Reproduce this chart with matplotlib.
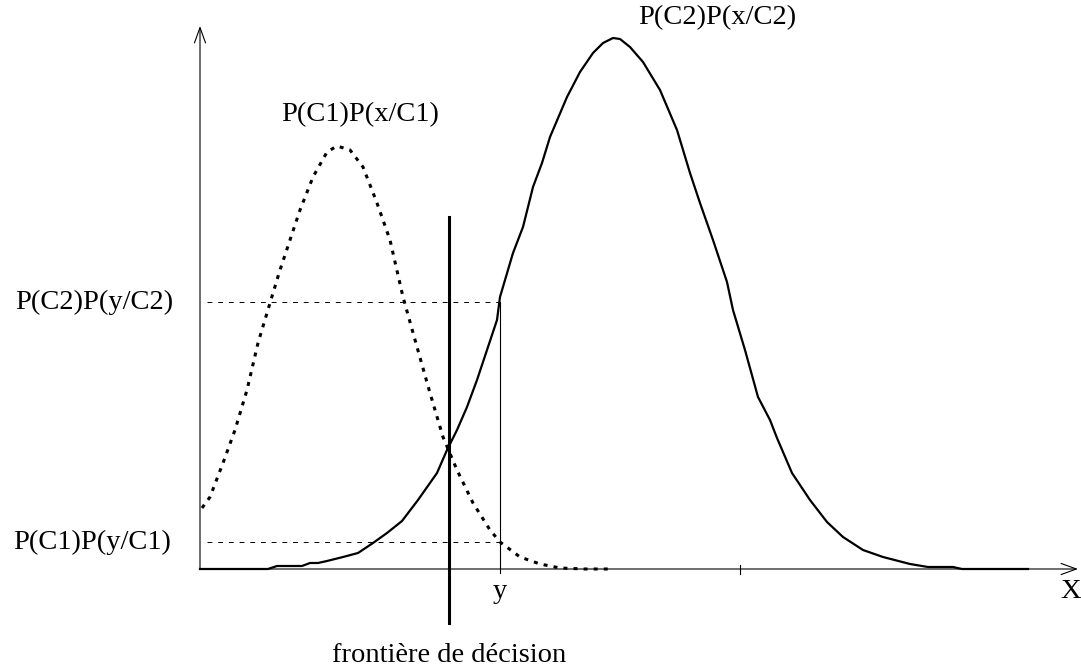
import numpy as np
import matplotlib
matplotlib.use('Agg')
import matplotlib.pyplot as plt

# class 1 curve, P(C1)P(x/C1) (dotted)
c1_x = [0.02, 0.10, 0.23, 0.35, 0.47, 0.58, 0.70, 0.80, 0.90, 1.00, 1.13, 1.27, 1.37, 1.50,
        1.63, 1.77, 1.90, 2.03, 2.17, 2.30, 2.43, 2.57, 2.73, 2.90, 3.00, 3.20, 3.40, 3.60,
        3.85, 4.10]
c1_y = [0.61, 0.72, 1.06, 1.39, 1.79, 2.26, 2.66, 2.99, 3.29, 3.59, 3.92, 4.17, 4.23, 4.19,
        4.02, 3.66, 3.29, 2.72, 2.22, 1.76, 1.32, 0.99, 0.66, 0.39, 0.27, 0.12, 0.05, 0.01,
        0.0, 0.0]

# class 2 curve, P(C2)P(x/C2) (solid)
c2_x = [0.00, 0.68, 0.77, 1.02, 1.10, 1.18, 1.27, 1.43, 1.58, 1.73, 1.87, 2.02, 2.18, 2.37,
        2.47, 2.57, 2.67, 2.77, 2.87, 2.97, 3.00, 3.13, 3.23, 3.33, 3.42, 3.50, 3.67, 3.80,
        3.93, 4.03, 4.13, 4.20, 4.30, 4.43, 4.60, 4.77, 4.90, 5.00, 5.13, 5.27, 5.33, 5.45,
        5.58, 5.70, 5.77, 5.92, 6.10, 6.27, 6.43, 6.63, 6.83, 7.10, 7.28, 7.53, 7.62, 8.28]
c2_y = [0.00, 0.00, 0.03, 0.03, 0.06, 0.06, 0.08, 0.12, 0.16, 0.26, 0.36, 0.48, 0.69, 0.96,
        1.19, 1.39, 1.62, 1.89, 2.19, 2.49, 2.72, 3.16, 3.42, 3.82, 4.06, 4.32, 4.72, 4.97,
        5.16, 5.26, 5.31, 5.30, 5.22, 5.07, 4.79, 4.39, 3.96, 3.66, 3.29, 2.87, 2.59, 2.19,
        1.72, 1.49, 1.31, 0.96, 0.69, 0.47, 0.32, 0.19, 0.12, 0.05, 0.02, 0.02, 0.00, 0.00]

boundary_x = 2.49
y_point = 3.0
p2_at_y = 2.67
p1_at_y = 0.27
tick_x = 5.40

fig = plt.figure(figsize=(10.81, 6.71), dpi=100)
ax = fig.add_axes([200 / 1081, 102 / 671, 878 / 1081, 543 / 671])
ax.set_xlim(0, 8.78)
ax.set_ylim(0, 5.43)
ax.axis('off')

plt.rcParams['font.family'] = ['Liberation Serif', 'DejaVu Serif']
fs = 20.5

# axes with open arrows
ax.annotate('', xy=(8.78, 0), xytext=(0, 0), annotation_clip=False,
            arrowprops=dict(arrowstyle='->,head_length=0.55,head_width=0.2', lw=0.8,
                            color='black', mutation_scale=20, shrinkA=0, shrinkB=0))
ax.annotate('', xy=(0, 5.43), xytext=(0, 0), annotation_clip=False,
            arrowprops=dict(arrowstyle='->,head_length=0.55,head_width=0.2', lw=0.8,
                            color='black', mutation_scale=20, shrinkA=0, shrinkB=0))
ax.plot([tick_x, tick_x], [-0.05, 0.04], color='black', lw=0.8, clip_on=False)

# curves
ax.plot(c1_x, c1_y, color='black', lw=2.2, linestyle=(0, (1.3, 2.0)), clip_on=False)
ax.plot(c2_x, c2_y, color='black', lw=1.6, clip_on=False)

# decision boundary and point y
ax.plot([boundary_x, boundary_x], [-0.54, 3.52], color='black', lw=2.2, clip_on=False)
ax.plot([y_point, y_point], [-0.04, p2_at_y], color='black', lw=0.8, clip_on=False)
ax.plot([0.07, y_point], [p2_at_y, p2_at_y], color='black', lw=0.7,
        linestyle=(0, (5, 6)), clip_on=False)
ax.plot([0.07, y_point], [p1_at_y, p1_at_y], color='black', lw=0.7,
        linestyle=(0, (5, 6)), clip_on=False)

# labels
ax.text(1.60, 4.54, 'P(C1)P(x/C1)', fontsize=fs, ha='center', va='center')
ax.text(5.17, 5.51, 'P(C2)P(x/C2)', fontsize=fs, ha='center', va='center', clip_on=False)
ax.text(-0.27, p2_at_y, 'P(C2)P(y/C2)', fontsize=fs, ha='right', va='center')
ax.text(-0.29, p1_at_y, 'P(C1)P(y/C1)', fontsize=fs, ha='right', va='center')
ax.text(y_point, -0.23, 'y', fontsize=fs, ha='center', va='center')
ax.text(8.71, -0.23, 'X', fontsize=fs, ha='center', va='center')
ax.text(boundary_x, -0.87, 'frontière de décision', fontsize=fs, ha='center', va='center')

fig.savefig('out.png', dpi=100)
